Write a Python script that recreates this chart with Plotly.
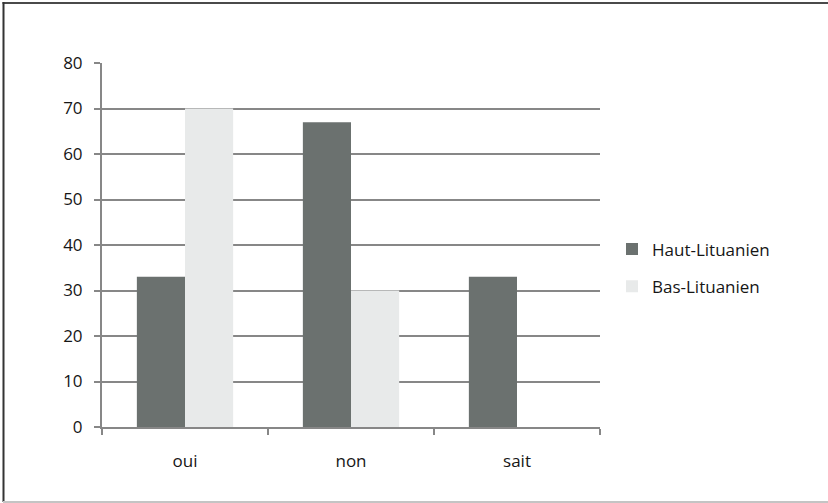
import plotly.graph_objects as go

categories = ["oui", "non", "sait"]
haut_lituanien = [33, 67, 33]
bas_lituanien = [70, 30, 0]
y_ticks = [0, 10, 20, 30, 40, 50, 60, 70, 80]

W, H = 828, 503
L, R, T, B = 102, 228, 63, 76
PW, PH = W - L - R, H - T - B

def px_x(x):
    return (x - L) / PW

def px_y(y):
    return (H - B - y) / PH

grid = "#878787"
font = dict(family="Open Sans", size=17, color="#161616")

fig = go.Figure()
fig.add_trace(go.Bar(x=categories, y=haut_lituanien, name="Haut-Lituanien",
                     marker=dict(color="#6b716f", line=dict(width=0)),
                     legendgroup="h"))
fig.add_trace(go.Bar(x=categories, y=bas_lituanien, name="Bas-Lituanien",
                     marker=dict(color="#e8eaea", line=dict(width=0)),
                     legendgroup="b"))

# outer frame: dark top/left edges, light bottom edge
frame = [
    dict(x0=px_x(2.5), x1=px_x(828), y0=px_y(3), y1=px_y(3), color="#4a4a4a", width=2),
    dict(x0=px_x(3.5), x1=px_x(3.5), y0=px_y(2), y1=px_y(502), color="#333333", width=2),
    dict(x0=px_x(3), x1=px_x(828), y0=px_y(502), y1=px_y(502), color="#c4c4c4", width=2),
]
shapes = [dict(type="line", xref="paper", yref="paper", x0=f["x0"], x1=f["x1"],
               y0=f["y0"], y1=f["y1"], line=dict(color=f["color"], width=f["width"]))
          for f in frame]

fig.update_layout(
    width=W, height=H,
    margin=dict(l=L, r=R, t=T, b=B),
    paper_bgcolor="white", plot_bgcolor="white",
    barmode="group", bargap=0.42, bargroupgap=0,
    font=font,
    showlegend=True,
    legend=dict(x=px_x(612), y=px_y(268), xanchor="left", yanchor="middle",
                font=font, tracegroupgap=12, bgcolor="rgba(0,0,0,0)"),
    shapes=shapes,
    xaxis=dict(type="category", showline=True, linecolor=grid, linewidth=2,
               ticks="outside", tickson="boundaries", ticklen=6, tickwidth=2,
               tickcolor=grid, showgrid=False, ticklabelstandoff=18,
               tickfont=font),
    yaxis=dict(range=[0, 80], tickvals=y_ticks, showline=True, linecolor=grid,
               linewidth=2, ticks="outside", ticklen=6, tickwidth=2,
               tickcolor=grid, showgrid=True, gridcolor=grid, gridwidth=2,
               zeroline=False, ticklabelstandoff=8, tickfont=font),
)

fig.write_html("out.html")
